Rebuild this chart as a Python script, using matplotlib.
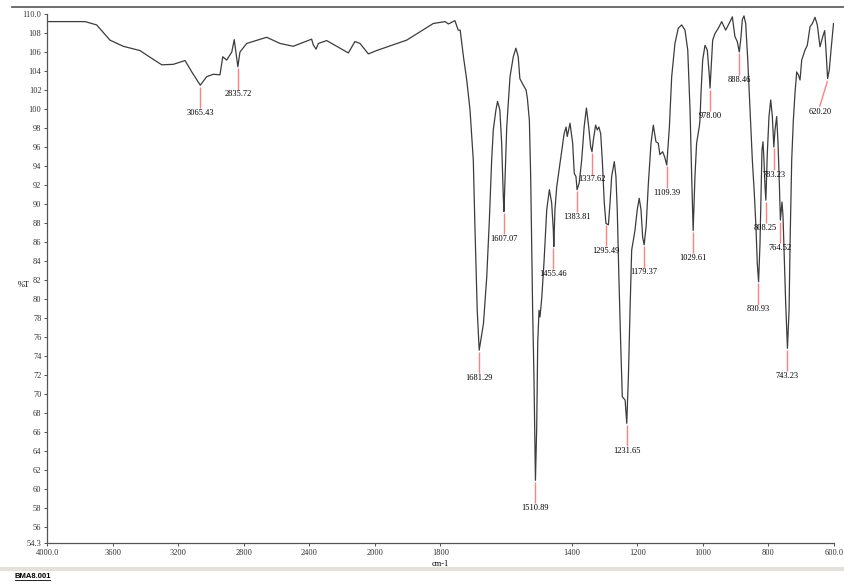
import numpy as np
import matplotlib.pyplot as plt
from matplotlib.lines import Line2D

# IR spectrum of BMA8.001
wavenumber = [4000, 3768, 3697, 3616, 3535, 3433, 3372, 3300, 3230, 3158,
              3117, 3065, 3026, 2986, 2945, 2928, 2904, 2873, 2858, 2836,
              2823, 2782, 2660, 2579, 2498, 2386, 2376, 2359, 2345, 2294,
              2162, 2122, 2091, 2040, 1995, 1903, 1822, 1786, 1776, 1756,
              1746, 1740, 1730, 1720, 1710, 1700, 1695, 1688, 1682, 1677,
              1669, 1659, 1651, 1644, 1639, 1631, 1626, 1619, 1613.5, 1608.5,
              1606.5, 1603, 1598, 1588, 1578, 1570, 1563, 1558, 1547.5, 1539,
              1535, 1529, 1525, 1522, 1519, 1515, 1512, 1510.5, 1506.6, 1503.5,
              1499.5, 1496.5, 1491, 1484, 1476, 1468, 1461, 1456, 1454.5, 1451,
              1445.6, 1435.6, 1423, 1417, 1413.5, 1405, 1397, 1392, 1387, 1383.5,
              1377, 1369.5, 1362, 1355, 1348, 1342, 1338, 1334, 1327, 1322,
              1317, 1311.5, 1306.6, 1300.5, 1295.5, 1288, 1283, 1278, 1270, 1265,
              1261, 1256, 1250.5, 1245.6, 1237, 1232, 1227, 1222, 1217, 1212,
              1207, 1200, 1194, 1188.6, 1183.5, 1179, 1173, 1166, 1158, 1151,
              1143, 1136, 1131, 1122.5, 1116.4, 1110, 1102, 1095, 1085, 1075,
              1064.5, 1054.4, 1046, 1039, 1034, 1029.5, 1024, 1019, 1011, 1008.7,
              1005.6, 1000.5, 993.4, 986.4, 980, 978, 975, 970, 962.9, 952.8,
              942.5, 930.3, 917, 910, 902, 895, 888.8, 883.6, 879.6, 874.5,
              869.3, 863, 856, 849, 843, 838, 834, 830, 825.7, 822.6,
              819.6, 816.5, 813.5, 810.4, 807.8, 803.4, 798.3, 793, 788, 783.5,
              779.9, 774.8, 770.7, 766.7, 763.5, 758.6, 755.5, 751.5, 747.3, 744.2,
              742, 737, 734, 729, 724, 719, 713.8, 708.8, 703.6, 698.5,
              688.4, 681.4, 673.1, 666, 657.9, 650.9, 642.7, 634.5, 628.4, 624.4,
              619.5, 614.4, 609.1, 601.5]
transmittance = [109.2, 109.2, 108.85, 107.25, 106.6, 106.15, 105.45, 104.65, 104.7, 105.1,
                 103.9, 102.5, 103.4, 103.65, 103.6, 105.5, 105.15, 106.0, 107.3, 104.45,
                 106.0, 106.9, 107.55, 106.9, 106.6, 107.35, 106.75, 106.3, 106.9, 107.2,
                 105.9, 107.1, 106.9, 105.8, 106.15, 107.25, 109.0, 109.2, 108.95, 109.3,
                 108.3, 108.3, 105.5, 103.05, 99.9, 94.6, 87.6, 78.8, 74.6, 75.7,
                 77.4, 82.3, 88.3, 94.6, 97.8, 99.9, 100.8, 99.9, 96.4, 90.8,
                 89.2, 92.9, 98.1, 103.4, 105.5, 106.4, 105.5, 103.2, 102.5, 102.0,
                 101.1, 98.8, 92.9, 85.9, 78.8, 71.8, 64.8, 60.9, 66.5, 75.4,
                 78.8, 78.1, 80.2, 84.1, 89.4, 91.5, 90.1, 87.3, 85.5, 89.4,
                 91.8, 94.3, 97.4, 98.1, 97.1, 98.5, 96.4, 93.2, 92.9, 91.5,
                 92.2, 94.6, 98.1, 100.1, 98.1, 96.0, 95.5, 96.7, 98.3, 97.8,
                 98.1, 97.4, 94.6, 90.1, 87.95, 87.8, 90.1, 92.9, 94.45, 92.9,
                 89.4, 82.3, 75.3, 69.7, 69.35, 66.9, 71.8, 78.8, 85.15, 86.2,
                 87.2, 89.4, 90.6, 89.4, 86.5, 85.7, 87.6, 92.2, 96.4, 98.3,
                 96.55, 96.4, 95.2, 95.5, 94.95, 94.1, 98.1, 103.4, 106.9, 108.5,
                 108.85, 108.3, 106.2, 99.9, 92.9, 87.2, 92.9, 96.4, 98.1, 98.8,
                 101.65, 105.15, 106.7, 106.2, 103.4, 102.2, 104.1, 107.25, 107.95, 108.5,
                 109.2, 108.3, 109.2, 109.7, 107.6, 107.1, 106.0, 107.6, 109.4, 109.8,
                 109.0, 105.15, 99.9, 94.6, 91.1, 87.6, 83.75, 81.8, 85.8, 91.1,
                 95.7, 96.55, 94.6, 91.8, 90.4, 95.3, 99.2, 100.95, 99.2, 96.0,
                 97.8, 99.2, 96.4, 92.2, 88.3, 90.2, 88.7, 84.1, 79.5, 76.7,
                 74.8, 78.8, 85.8, 94.6, 98.8, 101.65, 103.9, 103.6, 103.05, 105.15,
                 106.2, 106.7, 108.65, 109.0, 109.65, 108.85, 106.55, 107.6, 108.25, 106.2,
                 103.2, 104.1, 106.2, 109.0]

# picked peaks: position, %T at the trough, label
peak_wn = [3065.43, 2835.72, 1681.29, 1607.07, 1510.89, 1455.46, 1383.81, 1337.62,
           1295.49, 1231.65, 1179.37, 1109.39, 1029.61, 978.00, 888.46, 830.93,
           808.25, 783.23, 764.52, 743.23, 620.20]
peak_t = [102.5, 104.45, 74.6, 89.2, 60.9, 85.5, 91.5, 95.5,
          87.95, 66.9, 85.7, 94.1, 87.2, 102.2, 106.0, 81.8,
          90.4, 96.0, 88.3, 74.8, 103.2]
peak_labels = ['%.2f' % w for w in peak_wn]

xticks = [4000, 3600, 3200, 2800, 2400, 2000, 1800, 1400, 1200, 1000, 800, 600]
xtick_labels = ['4000.0', '3600', '3200', '2800', '2400', '2000', '1800',
                '1400', '1200', '1000', '800', '600.0']
yticks = [54.3] + list(range(56, 110, 2)) + [110.0]
ytick_labels = ['54.3'] + [str(v) for v in range(56, 110, 2)] + ['110.0']


# below 2000 cm-1 the instrument doubles the scale
def fwd(w):
    w = np.asarray(w, dtype=float)
    return np.where(w >= 2000, w, 2 * w - 2000)


def inv(v):
    v = np.asarray(v, dtype=float)
    return np.where(v >= 2000, v, (v + 2000) / 2)


serif = 'Liberation Serif'
fig = plt.figure(figsize=(8.45, 5.82), dpi=100)
ax = fig.add_axes([47 / 845, 39 / 582, 787 / 845, 529 / 582])
ax.set_xscale('function', functions=(fwd, inv))
ax.set_xlim(4000, 600)
ax.set_ylim(54.3, 110.0)

ax.plot(wavenumber, transmittance, color='#3c3c3c', lw=0.9)

for w, t, lab in zip(peak_wn, peak_t, peak_labels):
    if w < 700:
        # last label pushed to the side
        ax.plot([w, w + 23], [t - 0.3, t - 2.9], color='#ff8080', lw=1)
        ax.text(w + 23, t - 3.5, lab, ha='center', va='center',
                fontsize=6, family=serif)
    else:
        ax.vlines(w, t - 0.15, t - 2.4, color='#ff8080', lw=1)
        ax.text(w, t - 2.9, lab, ha='center', va='center',
                fontsize=6, family=serif)

ax.set_xticks(xticks)
ax.set_xticklabels(xtick_labels)
ax.set_yticks(yticks)
ax.set_yticklabels(ytick_labels)
ax.minorticks_off()
for lab in ax.get_xticklabels() + ax.get_yticklabels():
    lab.set_family(serif)
ax.tick_params(direction='out', length=2, width=0.6, labelsize=6, pad=2,
               colors='#333333')

for s in ['top', 'right']:
    ax.spines[s].set_visible(False)
for s in ['left', 'bottom']:
    ax.spines[s].set_color('#555555')
    ax.spines[s].set_linewidth(0.9)

fig.text(18 / 845, 1 - 285 / 582, '%T', fontsize=6, family=serif,
         ha='left', va='center')
fig.text(440 / 845, 1 - 564 / 582, 'cm-1', fontsize=6, family=serif,
         ha='center', va='center')

# window border bits
fig.add_artist(Line2D([12 / 845, 1], [1 - 7 / 582] * 2, color='#555555', lw=1.2))
fig.add_artist(Line2D([0, 1], [1 - 569 / 582] * 2, color='#e2e2da', lw=3))
fig.text(15 / 845, 1 - 576 / 582, 'BMA8.001', fontsize=5.5, weight='bold',
         family='Liberation Sans', ha='left', va='center')
fig.add_artist(Line2D([15 / 845, 50 / 845], [1 - 580 / 582] * 2, color='black', lw=0.6))

fig.savefig('out.png', dpi=100)
